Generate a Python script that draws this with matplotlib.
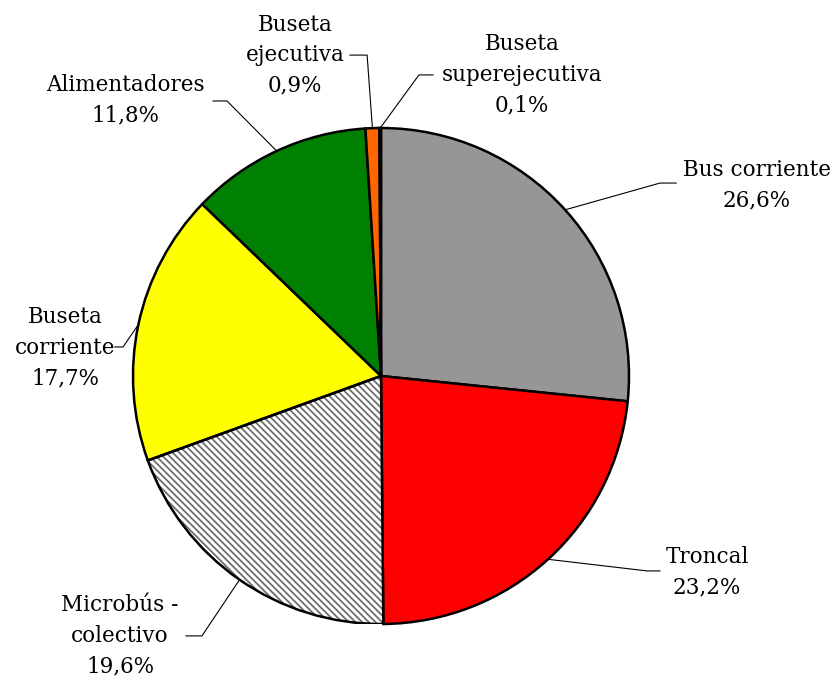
import matplotlib
matplotlib.use('Agg')
import matplotlib.pyplot as plt
from matplotlib.patches import Wedge
import numpy as np

plt.rcParams['font.family'] = 'DejaVu Serif'
plt.rcParams['hatch.linewidth'] = 1.3

# participación por tipo de servicio (%)
categorias = ['Bus corriente', 'Troncal', 'Microbús -\ncolectivo', 'Buseta\ncorriente',
              'Alimentadores', 'Buseta\nejecutiva', 'Buseta\nsuperejecutiva']
valores = [26.6, 23.2, 19.6, 17.7, 11.8, 0.9, 0.1]
colores = ['#969696', '#FF0000', 'white', '#FFFF00', '#008000', '#FF6600', '#3366CC']

# posición de cada etiqueta (centro del texto) y quiebre de la línea guía
pos_texto = [(1.516, 0.770), (1.315, -0.790), (-1.052, -1.048), (-1.274, 0.113),
             (-1.032, 1.113), (-0.347, 1.294), (0.569, 1.214)]
quiebre = [(1.125, 0.778), (1.073, -0.786), (-0.722, -1.048), (-1.040, 0.117),
           (-0.621, 1.109), (-0.056, 1.294), (0.153, 1.214)]
fin_guia = [(1.190, 0.778), (1.125, -0.786), (-0.786, -1.048), (-1.073, 0.117),
            (-0.677, 1.109), (-0.125, 1.294), (0.210, 1.214)]

W, H = 838, 677
cx, cy, R = 381, 376, 248
fig = plt.figure(figsize=(W / 100, H / 100), dpi=100)
ax = fig.add_axes([(cx - R) / W, (H - cy - R) / H, 2 * R / W, 2 * R / H])
ax.axis('off')

wedges, _ = ax.pie(valores, colors=colores, startangle=90, counterclock=False,
                   radius=1, center=(0, 0), frame=False,
                   wedgeprops=dict(edgecolor='black', linewidth=1.8))
ax.set_xlim(-1, 1)
ax.set_ylim(-1, 1)

# rayado del segmento microbús: líneas grises y borde negro encima
w = wedges[2]
w.set_edgecolor('#6e6e6e')
w.set_hatch('\\' * 5)
w.set_linewidth(0)
ax.add_patch(Wedge(w.center, w.r, w.theta1, w.theta2, fill=False,
                   edgecolor='black', linewidth=1.8, zorder=w.get_zorder() + 0.1))

for wd, cat, v, pt, q, f in zip(wedges, categorias, valores, pos_texto, quiebre, fin_guia):
    ang = np.deg2rad((wd.theta1 + wd.theta2) / 2)
    x0, y0 = np.cos(ang), np.sin(ang)
    ax.plot([x0, q[0], f[0]], [y0, q[1], f[1]], color='black', lw=0.8,
            clip_on=False, zorder=5)
    txt = cat + '\n' + ('%.1f%%' % v).replace('.', ',')
    ax.text(pt[0], pt[1], txt, ha='center', va='center', multialignment='center',
            fontsize=15.5, linespacing=1.5, clip_on=False)

fig.savefig('out.png', dpi=100)
